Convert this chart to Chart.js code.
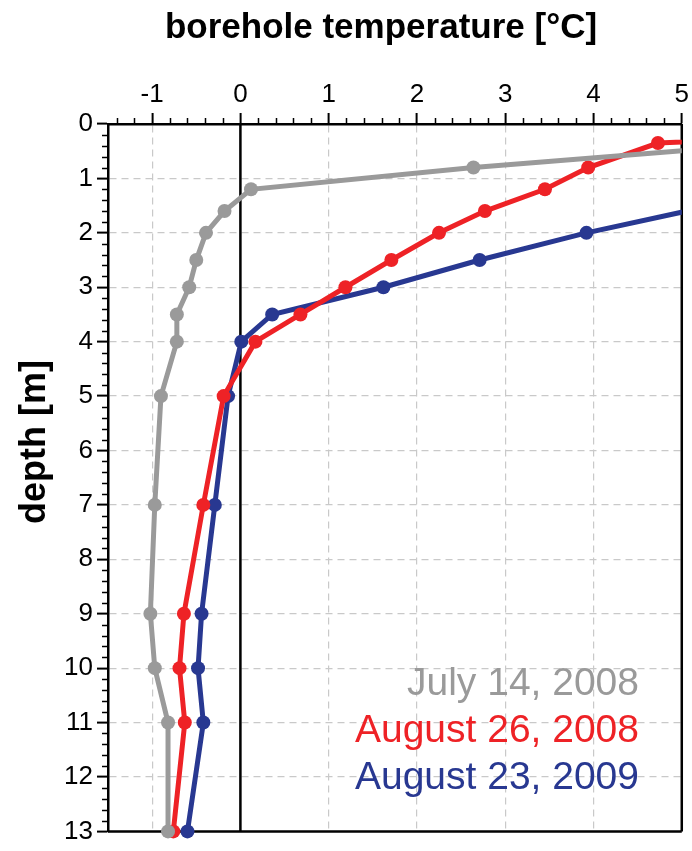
<!DOCTYPE html>
<html>
<head>
<meta charset="utf-8">
<script src="https://cdn.jsdelivr.net/npm/chart.js@4.4.1/dist/chart.umd.min.js"></script>
<style>
  body { margin: 0; background: #fff; }
  canvas { display: block; }
</style>
</head>
<body>
<canvas id="chart" width="692" height="851"></canvas>
<script>
// --- tick labels ---
const tempTicks = [-1, 0, 1, 2, 3, 4, 5];
const depthTicks = [0, 1, 2, 3, 4, 5, 6, 7, 8, 9, 10, 11, 12, 13];

// --- series (depth in m, temperature in °C) ---
const seriesLabels = ['July 14, 2008', 'August 26, 2008', 'August 23, 2009'];
const seriesColors = ['#9a9a9a', '#ee2226', '#283891'];

const julyDepth = [0.4, 0.8, 1.2, 1.6, 2.0, 2.5, 3.0, 3.5, 4.0, 5, 7, 9, 10, 11, 13];
const julyTemp = [5.7, 2.64, 0.12, -0.18, -0.39, -0.50, -0.58, -0.72, -0.72, -0.90, -0.97, -1.02, -0.97, -0.82, -0.82];

const aug08Depth = [0.2, 0.35, 0.8, 1.2, 1.6, 2.0, 2.5, 3.0, 3.5, 4.0, 5, 7, 9, 10, 11, 13];
const aug08Temp = [6.75, 4.73, 3.94, 3.45, 2.77, 2.25, 1.71, 1.19, 0.68, 0.17, -0.19, -0.42, -0.64, -0.69, -0.63, -0.76];

const aug09Depth = [1.2, 2.0, 2.5, 3.0, 3.5, 4.0, 5, 7, 9, 10, 11, 13];
const aug09Temp = [6.2, 3.92, 2.71, 1.62, 0.36, 0.01, -0.14, -0.29, -0.44, -0.48, -0.42, -0.60];

const FONT = "'Liberation Sans', Arial, sans-serif";

function toPoints(depths, temps) {
  return depths.map((d, i) => ({ x: temps[i], y: d }));
}

function makeSet(label, depths, temps, color) {
  return {
    label,
    data: toPoints(depths, temps),
    showLine: true,
    borderColor: color,
    backgroundColor: color,
    borderWidth: 5,
    pointRadius: 7,
    pointBorderWidth: 0,
    pointBackgroundColor: color,
    clip: { left: 10, top: 10, right: 0, bottom: 10 }
  };
}

// grid: dashed grey at majors, nothing where the frame / zero line sit
function gridColor(ctx, hidden) {
  if (ctx.tick && hidden.includes(ctx.tick.value)) return 'rgba(0,0,0,0)';
  return '#c9c9c9';
}

// --- frame, zero line, minor ticks, titles and legend text ---
const decorations = {
  id: 'decorations',
  beforeDatasetsDraw(chart) {
    const { ctx, chartArea: a, scales: { x, y } } = chart;
    ctx.save();
    ctx.strokeStyle = '#000';
    ctx.lineWidth = 2.5;
    ctx.beginPath();
    const x0 = x.getPixelForValue(0);
    ctx.moveTo(x0, a.top);
    ctx.lineTo(x0, a.bottom);
    ctx.moveTo(a.right, a.top);
    ctx.lineTo(a.right, a.bottom);
    ctx.moveTo(a.left, a.bottom);
    ctx.lineTo(a.right, a.bottom);
    ctx.stroke();

    // minor ticks every 0.2
    ctx.lineWidth = 1.5;
    ctx.beginPath();
    for (let i = -7; i < 25; i++) {
      if (i % 5 === 0) continue;
      const px = Math.round(x.getPixelForValue(i / 5)) + 0.5;
      ctx.moveTo(px, a.top);
      ctx.lineTo(px, a.top - 6);
    }
    for (let i = 1; i < 65; i++) {
      if (i % 5 === 0) continue;
      const py = Math.round(y.getPixelForValue(i / 5)) + 0.5;
      ctx.moveTo(a.left, py);
      ctx.lineTo(a.left - 6, py);
    }
    ctx.stroke();
    ctx.restore();
  },
  afterDatasetsDraw(chart) {
    const { ctx } = chart;
    ctx.save();
    ctx.fillStyle = '#000';
    ctx.font = 'bold 35px ' + FONT;
    ctx.textAlign = 'center';
    ctx.textBaseline = 'alphabetic';
    ctx.fillText('borehole temperature [°C]', 381, 38);

    ctx.save();
    ctx.translate(45, 442);
    ctx.rotate(-Math.PI / 2);
    ctx.font = 'bold 36px ' + FONT;
    ctx.fillText('depth [m]', 0, 0);
    ctx.restore();

    ctx.font = '39px ' + FONT;
    ctx.textAlign = 'right';
    seriesLabels.forEach((lbl, i) => {
      ctx.fillStyle = seriesColors[i];
      ctx.fillText(lbl, 639, 695 + i * 47);
    });
    ctx.restore();
  }
};

new Chart(document.getElementById('chart'), {
  type: 'scatter',
  data: {
    datasets: [
      makeSet(seriesLabels[0], julyDepth, julyTemp, seriesColors[0]),
      makeSet(seriesLabels[1], aug08Depth, aug08Temp, seriesColors[1]),
      makeSet(seriesLabels[2], aug09Depth, aug09Temp, seriesColors[2])
    ]
  },
  options: {
    responsive: false,
    animation: false,
    devicePixelRatio: 1,
    layout: { padding: { left: 0, top: 0, right: 9, bottom: 13 } },
    plugins: {
      legend: { display: false },
      tooltip: { enabled: false }
    },
    scales: {
      x: {
        type: 'linear',
        position: 'top',
        min: -1.5,
        max: 5,
        afterBuildTicks: s => { s.ticks = tempTicks.map(v => ({ value: v })); },
        afterFit: s => { s.height = 124; },
        ticks: {
          color: '#000',
          font: { family: FONT, size: 26 },
          padding: 3,
          maxRotation: 0,
          autoSkip: false
        },
        grid: {
          color: ctx => gridColor(ctx, [0, 5]),
          lineWidth: 1.2,
          tickColor: '#000',
          tickWidth: 2,
          tickLength: 11,
          tickBorderDash: []
        },
        border: { display: true, color: '#000', width: 2.5, dash: [7, 5] }
      },
      y: {
        type: 'linear',
        reverse: true,
        min: 0,
        max: 13,
        afterBuildTicks: s => { s.ticks = depthTicks.map(v => ({ value: v })); },
        afterFit: s => { s.width = 108; },
        ticks: {
          color: '#000',
          font: { family: FONT, size: 26 },
          padding: 4,
          autoSkip: false
        },
        grid: {
          color: ctx => gridColor(ctx, [0, 13]),
          lineWidth: 1.2,
          tickColor: '#000',
          tickWidth: 2,
          tickLength: 11,
          tickBorderDash: []
        },
        border: { display: true, color: '#000', width: 2.5, dash: [7, 5] }
      }
    }
  },
  plugins: [decorations]
});
</script>
</body>
</html>
